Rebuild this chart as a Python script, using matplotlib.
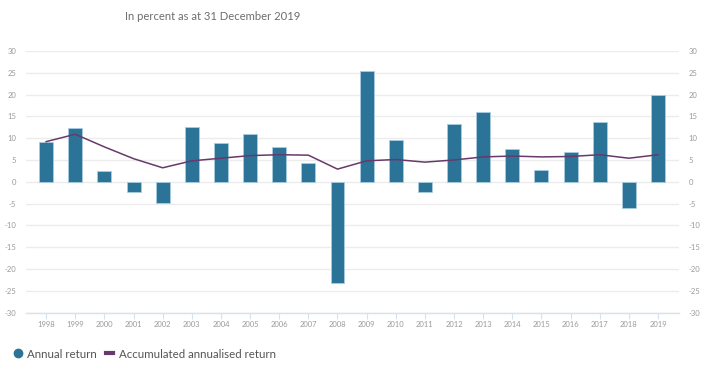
import numpy as np
import matplotlib
matplotlib.use("Agg")
import matplotlib.pyplot as plt
from matplotlib.lines import Line2D

years = [str(y) for y in range(1998, 2020)]
annual_return = [9.1, 12.4, 2.4, -2.4, -4.8, 12.6, 8.9, 11.0, 7.9, 4.2, -23.2,
                 25.5, 9.6, -2.4, 13.3, 15.9, 7.5, 2.6, 6.8, 13.6, -6.1, 19.8]
accumulated = [9.2, 10.9, 8.0, 5.3, 3.2, 4.8, 5.4, 6.0, 6.2, 6.1, 2.9,
               4.8, 5.1, 4.5, 5.0, 5.7, 5.9, 5.7, 5.8, 6.2, 5.4, 6.2]
y_ticks = list(range(-30, 35, 5))

BAR_COLOR = "#2c7398"
LINE_COLOR = "#68396b"
GRID_COLOR = "#ececec"
TEXT_COLOR = "#9a9a9a"

plt.rcParams["font.family"] = ["Lato", "DejaVu Sans"]

fig = plt.figure(figsize=(7.05, 3.74), dpi=100)
ax = fig.add_axes([26 / 705, 1 - 312.5 / 374, 653 / 705, 261.5 / 374])

x = np.arange(len(years))
ax.bar(x, annual_return, width=0.48, color=BAR_COLOR, edgecolor="#a9cde0",
       linewidth=0.6, zorder=3)
ax.plot(x, accumulated, color=LINE_COLOR, lw=1.1, zorder=4)

ax.set_xlim(-0.69, 21.72)
ax.set_ylim(-30, 30)
ax.set_yticks(y_ticks)
ax.set_yticklabels([str(v) for v in y_ticks])
ax.set_xticks(x)
ax.set_xticklabels(years)

ax.grid(axis="y", color=GRID_COLOR, lw=1, zorder=0)
ax.set_axisbelow(True)
for s in ["top", "left", "right"]:
    ax.spines[s].set_visible(False)
ax.spines["bottom"].set_color("#d6e2ee")
ax.spines["bottom"].set_linewidth(1)

ax.tick_params(axis="y", length=0, labelsize=5.5, labelcolor=TEXT_COLOR,
               pad=7, labelright=True, right=False)
ax.tick_params(axis="x", length=4, color="#d6e2ee", labelsize=5.5,
               labelcolor=TEXT_COLOR, pad=2)

fig.text(125 / 705, 1 - 16 / 374, "In percent as at 31 December 2019",
         fontsize=8.1, color="#6e6e6e", va="center", ha="left")

handles = [
    Line2D([], [], marker="o", ls="none", color=BAR_COLOR, markersize=6),
    Line2D([], [], color=LINE_COLOR, lw=3),
]
fig.legend(handles, ["Annual return", "Accumulated annualised return"],
           loc="center left", bbox_to_anchor=(14 / 705, 1 - 354 / 374),
           ncol=2, frameon=False, fontsize=8.3, labelcolor="#555555",
           handlelength=0.65, handletextpad=0.5, columnspacing=0.75,
           borderpad=0, borderaxespad=0)

fig.savefig("out.png", dpi=100)
